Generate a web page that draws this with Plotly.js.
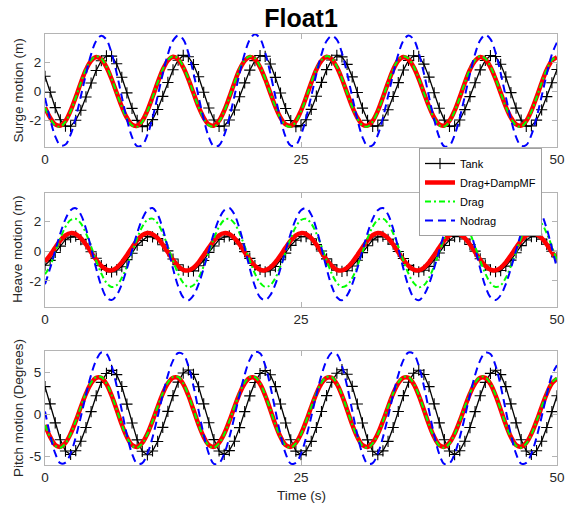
<!DOCTYPE html>
<html>
<head>
<meta charset="utf-8">
<script src="https://cdn.plot.ly/plotly-3.0.1.min.js"></script>
<style>html,body{margin:0;padding:0;background:#fff;}#chart{width:566px;height:512px;}</style>
</head>
<body>
<div id="chart"></div>
<script>
const seriesNames = ["Tank", "Drag+DampMF", "Drag", "Nodrag"];
const xTickVals = [0, 25, 50];
const panelTitles = ["Surge motion (m)", "Heave motion (m)", "Pitch motion (Degrees)"];
const xTitle = "Time (s)";
const chartTitle = "Float1";

const time = [0,0.5,1,1.5,2,2.5,3,3.5,4,4.5,5,5.5,6,6.5,7,7.5,8,8.5,9,9.5,10,10.5,11,11.5,12,12.5,13,13.5,14,14.5,15,15.5,16,16.5,17,17.5,18,18.5,19,19.5,20,20.5,21,21.5,22,22.5,23,23.5,24,24.5,25,25.5,26,26.5,27,27.5,28,28.5,29,29.5,30,30.5,31,31.5,32,32.5,33,33.5,34,34.5,35,35.5,36,36.5,37,37.5,38,38.5,39,39.5,40,40.5,41,41.5,42,42.5,43,43.5,44,44.5,45,45.5,46,46.5,47,47.5,48,48.5,49,49.5,50];

const surgeTank = [1.05,-0.05,-1.12,-1.96,-2.40,-2.41,-1.99,-1.30,-0.38,0.58,1.45,2.12,2.46,2.44,1.91,
0.98,-0.10,-1.17,-2.00,-2.43,-2.37,-1.95,-1.25,-0.34,0.62,1.50,2.16,2.49,2.40,1.86,
1.02,-0.06,-1.14,-1.97,-2.42,-2.39,-1.97,-1.28,-0.37,0.59,1.47,2.13,2.48,2.43,1.90,
0.97,-0.11,-1.18,-2.01,-2.44,-2.36,-1.96,-1.24,-0.33,0.63,1.51,2.17,2.50,2.39,1.87,
1.01,-0.07,-1.15,-1.99,-2.41,-2.38,-1.98,-1.27,-0.35,0.61,1.48,2.15,2.47,2.42,1.89,
0.99,-0.09,-1.16,-1.98,-2.42,-2.39,-1.97,-1.26,-0.36,0.60,1.49,2.14,2.48,2.41,1.88,
1.00,-0.08,-1.15,-1.98,-2.41,-2.38,-1.98,-1.27,-0.36,0.60,1.52];
const surgeDampMF = [-1.10,-1.81,-2.28,-2.36,-2.03,-1.33,-0.40,0.60,1.50,2.12,2.38,2.22,1.68,0.86,-0.10,
-1.05,-1.82,-2.29,-2.37,-2.03,-1.32,-0.39,0.61,1.50,2.13,2.39,2.22,1.67,0.85,-0.11,
-1.06,-1.81,-2.28,-2.36,-2.02,-1.33,-0.40,0.60,1.51,2.12,2.38,2.23,1.68,0.86,-0.10,
-1.05,-1.82,-2.28,-2.37,-2.03,-1.33,-0.41,0.60,1.50,2.12,2.39,2.22,1.68,0.86,-0.10,
-1.05,-1.81,-2.29,-2.36,-2.03,-1.34,-0.40,0.59,1.50,2.13,2.38,2.21,1.68,0.87,-0.10,
-1.04,-1.81,-2.28,-2.36,-2.02,-1.33,-0.40,0.60,1.50,2.12,2.38,2.22,1.68,0.86,-0.10,
-1.05,-1.81,-2.28,-2.36,-2.03,-1.33,-0.40,0.60,1.50,2.12,2.36];
const surgeDrag = [-1.12,-1.86,-2.34,-2.43,-2.09,-1.38,-0.43,0.60,1.53,2.17,2.43,2.28,1.73,0.89,-0.10,
-1.07,-1.87,-2.35,-2.44,-2.09,-1.37,-0.42,0.61,1.53,2.18,2.44,2.28,1.72,0.88,-0.11,
-1.08,-1.86,-2.34,-2.43,-2.08,-1.38,-0.43,0.60,1.54,2.17,2.43,2.29,1.73,0.89,-0.10,
-1.07,-1.87,-2.34,-2.44,-2.09,-1.38,-0.44,0.60,1.53,2.17,2.44,2.28,1.73,0.89,-0.10,
-1.07,-1.86,-2.35,-2.43,-2.09,-1.39,-0.43,0.59,1.53,2.18,2.43,2.27,1.73,0.90,-0.10,
-1.06,-1.86,-2.34,-2.43,-2.08,-1.38,-0.43,0.60,1.53,2.17,2.43,2.28,1.73,0.89,-0.10,
-1.07,-1.86,-2.34,-2.43,-2.09,-1.38,-0.43,0.60,1.53,2.17,2.41];
const surgeNodrag = [-0.45,-1.91,-3.11,-3.72,-3.67,-2.99,-1.82,-0.33,1.20,2.56,3.50,3.85,3.58,2.66,1.26,
-0.37,-1.93,-3.15,-3.78,-3.71,-3.01,-1.83,-0.33,1.21,2.57,3.51,3.86,3.60,2.67,1.26,
-0.36,-1.92,-3.16,-3.80,-3.73,-3.02,-1.82,-0.32,1.23,2.61,3.58,3.95,3.66,2.70,1.27,
-0.37,-1.93,-3.14,-3.75,-3.70,-3.00,-1.82,-0.33,1.20,2.56,3.49,3.84,3.58,2.65,1.25,
-0.36,-1.92,-3.15,-3.78,-3.72,-3.01,-1.83,-0.33,1.21,2.57,3.51,3.86,3.60,2.66,1.26,
-0.37,-1.93,-3.16,-3.80,-3.73,-3.02,-1.82,-0.32,1.22,2.59,3.54,3.90,3.62,2.68,1.26,
-0.37,-1.92,-3.14,-3.76,-3.70,-3.00,-1.82,-0.33,1.20,2.56,3.40];

const heaveTank = [-0.95,-0.63,-0.10,0.33,0.76,0.93,1.00,0.77,0.47,-0.05,-0.48,-0.98,-1.23,-1.40,-1.27,
-1.05,-0.58,-0.15,0.39,0.71,0.98,0.95,0.83,0.42,0.01,-0.54,-0.92,-1.29,-1.36,-1.33,
-0.99,-0.64,-0.09,0.34,0.77,0.94,1.01,0.78,0.48,-0.04,-0.49,-0.97,-1.24,-1.39,-1.28,
-1.04,-0.59,-0.14,0.38,0.72,0.97,0.96,0.82,0.43,0.00,-0.53,-0.93,-1.28,-1.37,-1.32,
-1.00,-0.62,-0.11,0.35,0.75,0.95,0.99,0.79,0.46,-0.03,-0.50,-0.96,-1.25,-1.39,-1.29,
-1.03,-0.60,-0.13,0.37,0.73,0.97,0.97,0.81,0.44,-0.01,-0.52,-0.94,-1.27,-1.38,-1.31,
-1.01,-0.61,-0.12,0.36,0.74,0.96,0.98,0.80,0.45,-0.02,-0.40];
const heaveDampMF = [-0.70,-0.28,0.23,0.71,1.05,1.20,1.13,0.86,0.44,-0.08,-0.58,-1.00,-1.25,-1.29,-1.12,
-0.76,-0.28,0.24,0.72,1.06,1.21,1.13,0.86,0.43,-0.09,-0.59,-1.01,-1.26,-1.30,-1.12,
-0.76,-0.27,0.23,0.71,1.05,1.20,1.14,0.87,0.44,-0.08,-0.58,-1.00,-1.25,-1.29,-1.11,
-0.75,-0.28,0.23,0.70,1.05,1.20,1.13,0.86,0.44,-0.08,-0.58,-1.00,-1.26,-1.30,-1.12,
-0.76,-0.28,0.24,0.71,1.06,1.21,1.13,0.86,0.44,-0.08,-0.59,-1.00,-1.25,-1.29,-1.12,
-0.76,-0.28,0.23,0.71,1.05,1.20,1.13,0.86,0.44,-0.08,-0.58,-1.00,-1.25,-1.29,-1.12,
-0.76,-0.28,0.23,0.71,1.05,1.20,1.13,0.86,0.44,-0.08,-0.50];
const heaveDrag = [-1.55,-1.01,-0.07,0.86,1.62,2.08,2.16,1.85,1.19,0.31,-0.64,-1.51,-2.13,-2.41,-2.29,
-1.80,-1.02,-0.07,0.87,1.63,2.09,2.17,1.85,1.19,0.30,-0.65,-1.52,-2.14,-2.42,-2.30,
-1.80,-1.01,-0.06,0.86,1.62,2.08,2.16,1.85,1.19,0.31,-0.64,-1.51,-2.13,-2.41,-2.29,
-1.80,-1.01,-0.07,0.86,1.62,2.08,2.16,1.84,1.18,0.31,-0.64,-1.51,-2.13,-2.41,-2.29,
-1.81,-1.02,-0.07,0.87,1.63,2.09,2.17,1.85,1.19,0.31,-0.65,-1.52,-2.14,-2.42,-2.30,
-1.80,-1.01,-0.07,0.86,1.62,2.08,2.16,1.85,1.19,0.31,-0.64,-1.51,-2.13,-2.41,-2.29,
-1.80,-1.01,-0.07,0.86,1.62,2.08,2.16,1.85,1.19,0.31,-0.64];
const heaveNodrag = [-2.22,-1.16,0.03,1.19,2.14,2.73,2.87,2.44,1.49,0.20,-1.17,-2.35,-3.10,-3.29,-2.96,
-2.23,-1.17,0.03,1.20,2.15,2.74,2.88,2.45,1.49,0.20,-1.18,-2.36,-3.11,-3.30,-2.97,
-2.22,-1.16,0.04,1.20,2.15,2.74,2.89,2.45,1.50,0.21,-1.17,-2.35,-3.10,-3.29,-2.96,
-2.22,-1.16,0.03,1.19,2.14,2.73,2.87,2.44,1.49,0.20,-1.17,-2.35,-3.10,-3.30,-2.97,
-2.23,-1.17,0.03,1.20,2.15,2.74,2.88,2.45,1.49,0.20,-1.18,-2.36,-3.11,-3.30,-2.96,
-2.22,-1.16,0.03,1.19,2.14,2.73,2.88,2.44,1.49,0.20,-1.17,-2.35,-3.10,-3.29,-2.96,
-2.22,-1.16,0.03,1.19,2.14,2.73,2.87,2.44,1.49,0.20,-1.17];

const pitchTank = [3.26,1.21,-1.04,-3.04,-4.39,-4.80,-4.35,-3.23,-1.60,0.30,2.18,3.77,4.83,5.20,4.69,
3.28,1.19,-1.06,-3.06,-4.42,-4.84,-4.38,-3.25,-1.58,0.32,2.20,3.80,4.88,5.25,4.72,
3.25,1.22,-1.03,-3.03,-4.38,-4.79,-4.34,-3.22,-1.61,0.29,2.17,3.76,4.82,5.18,4.68,
3.27,1.20,-1.05,-3.05,-4.40,-4.82,-4.36,-3.24,-1.59,0.31,2.19,3.79,4.86,5.28,4.73,
3.29,1.20,-1.05,-3.06,-4.41,-4.83,-4.37,-3.24,-1.59,0.31,2.19,3.79,4.85,5.22,4.70,
3.26,1.21,-1.04,-3.04,-4.39,-4.81,-4.35,-3.23,-1.60,0.30,2.18,3.77,4.84,5.21,4.69,
3.26,1.21,-1.04,-3.04,-4.39,-4.80,-4.35,-3.23,-1.60,0.30,2.18];
const pitchDampMF = [-1.30,-2.71,-3.66,-3.89,-3.41,-2.34,-0.84,0.84,2.42,3.65,4.31,4.31,3.57,2.22,0.52,
-1.24,-2.72,-3.67,-3.90,-3.41,-2.33,-0.83,0.85,2.43,3.66,4.32,4.32,3.57,2.21,0.51,
-1.25,-2.71,-3.66,-3.89,-3.40,-2.34,-0.84,0.84,2.42,3.65,4.31,4.31,3.58,2.22,0.52,
-1.24,-2.71,-3.66,-3.89,-3.41,-2.34,-0.84,0.84,2.42,3.65,4.31,4.31,3.57,2.22,0.52,
-1.24,-2.72,-3.67,-3.90,-3.41,-2.34,-0.84,0.85,2.43,3.66,4.32,4.31,3.57,2.22,0.52,
-1.24,-2.71,-3.66,-3.89,-3.41,-2.34,-0.84,0.84,2.42,3.65,4.31,4.31,3.57,2.22,0.52,
-1.24,-2.71,-3.66,-3.89,-3.41,-2.34,-0.84,0.84,2.42,3.65,4.20];
const pitchDrag = [-1.31,-2.76,-3.75,-3.99,-3.49,-2.39,-0.85,0.87,2.48,3.74,4.41,4.41,3.65,2.28,0.54,
-1.25,-2.77,-3.76,-4.00,-3.49,-2.38,-0.84,0.88,2.49,3.75,4.42,4.42,3.65,2.27,0.53,
-1.26,-2.76,-3.75,-3.99,-3.48,-2.39,-0.85,0.87,2.48,3.74,4.41,4.41,3.66,2.28,0.54,
-1.25,-2.76,-3.75,-3.99,-3.49,-2.39,-0.85,0.87,2.48,3.74,4.41,4.41,3.65,2.28,0.54,
-1.25,-2.77,-3.76,-4.00,-3.49,-2.39,-0.85,0.88,2.49,3.75,4.42,4.41,3.65,2.28,0.54,
-1.25,-2.76,-3.75,-3.99,-3.49,-2.39,-0.85,0.87,2.48,3.74,4.41,4.41,3.65,2.28,0.54,
-1.25,-2.76,-3.75,-3.99,-3.49,-2.39,-0.85,0.87,2.48,3.74,4.30];
const pitchNodrag = [0.30,-2.44,-4.68,-5.84,-5.76,-4.68,-2.76,-0.32,2.29,4.65,6.41,7.32,7.16,5.76,3.34,
0.42,-2.46,-4.72,-5.90,-5.82,-4.71,-2.77,-0.32,2.28,4.62,6.36,7.26,7.10,5.72,3.32,
0.41,-2.46,-4.72,-5.92,-5.83,-4.72,-2.78,-0.31,2.31,4.69,6.47,7.40,7.22,5.80,3.36,
0.42,-2.45,-4.70,-5.88,-5.80,-4.70,-2.77,-0.32,2.28,4.63,6.38,7.28,7.12,5.73,3.33,
0.42,-2.46,-4.72,-5.90,-5.82,-4.71,-2.77,-0.32,2.29,4.65,6.41,7.32,7.16,5.76,3.34,
0.42,-2.46,-4.73,-5.93,-5.85,-4.73,-2.78,-0.32,2.29,4.64,6.39,7.30,7.14,5.75,3.34,
0.42,-2.45,-4.70,-5.88,-5.80,-4.70,-2.77,-0.32,2.29,4.65,5.80];

const surgeTicks = [-2, 0, 2];
const heaveTicks = [-2, 0, 2];
const pitchTicks = [-5, 0, 5];

const W = 566, H = 512;
const FONT = "Liberation Sans, Arial, Helvetica, sans-serif";
const TXT = "#262626";
const AXC = "#b4b4b4";

const panels = [
  {data:[surgeTank, surgeDampMF, surgeDrag, surgeNodrag], ticks:surgeTicks, range:[-3.84, 3.97], top:34, bottom:147, title:panelTitles[0]},
  {data:[heaveTank, heaveDampMF, heaveDrag, heaveNodrag], ticks:heaveTicks, range:[-3.72, 3.89], top:193, bottom:306.5, title:panelTitles[1]},
  {data:[pitchTank, pitchDampMF, pitchDrag, pitchNodrag], ticks:pitchTicks, range:[-6.05, 7.5], top:351, bottom:465, title:panelTitles[2]}
];
const styles = [
  {mode:"lines+markers", line:{color:"#000000", width:1.3}, marker:{symbol:"cross-thin", size:8, line:{color:"#000000", width:1.1}}},
  {mode:"lines", line:{color:"#ff0000", width:4.5, shape:"spline", smoothing:1}},
  {mode:"lines", line:{color:"#00ff00", width:2, dash:"6px,3px,2px,3px", shape:"spline", smoothing:1}},
  {mode:"lines", line:{color:"#0000ff", width:2, dash:"8px,5px", shape:"spline", smoothing:1}}
];

const xLeft = 45, xRight = 557;
const traces = [];
const layout = {
  width:W, height:H, margin:{l:0, r:0, t:0, b:0},
  paper_bgcolor:"#ffffff", plot_bgcolor:"#ffffff",
  font:{family:FONT, color:TXT},
  showlegend:true,
  title:{text:"<b>" + chartTitle + "</b>", x:301/W, xanchor:"center", y:1-18/H, yanchor:"middle", yref:"container", font:{size:25, color:"#000000", family:FONT}},
  legend:{x:419/W, y:1-148/H, xanchor:"left", yanchor:"top", bgcolor:"#ffffff", bordercolor:"#a0a0a0", borderwidth:1, font:{size:11, color:"#000000", family:FONT}, itemwidth:30, tracegroupgap:0},
  annotations:[]
};

panels.forEach((p, i) => {
  const xa = i === 0 ? "x" : "x" + (i + 1);
  const ya = i === 0 ? "y" : "y" + (i + 1);
  p.data.forEach((ys, j) => {
    const s = styles[j];
    const tr = {type:"scatter", x:time, y:ys, xaxis:xa, yaxis:ya, name:seriesNames[j], mode:s.mode, line:s.line, showlegend:i === 0, legendgroup:seriesNames[j], hoverinfo:"skip"};
    if (s.marker) tr.marker = s.marker;
    traces.push(tr);
  });
  const axCommon = {showline:true, linecolor:AXC, linewidth:1, mirror:"ticks", ticks:"inside", ticklen:5, tickcolor:AXC, tickwidth:1, showgrid:false, zeroline:false, tickfont:{size:13.5, color:TXT, family:FONT}, fixedrange:true};
  layout[i === 0 ? "xaxis" : "xaxis" + (i + 1)] = Object.assign({}, axCommon, {domain:[xLeft/W, xRight/W], range:[0, 50], tickvals:xTickVals, ticktext:xTickVals.map(String), anchor:ya});
  layout[i === 0 ? "yaxis" : "yaxis" + (i + 1)] = Object.assign({}, axCommon, {domain:[1 - p.bottom/H, 1 - p.top/H], range:p.range, tickvals:p.ticks, ticktext:p.ticks.map(String), anchor:xa});
  layout.annotations.push({text:p.title, xref:"paper", yref:"paper", x:18/W, y:1 - (p.top + p.bottom)/2/H, xanchor:"center", yanchor:"middle", textangle:-90, showarrow:false, font:{size:13.5, color:TXT, family:FONT}});
});
layout.annotations.push({text:xTitle, xref:"paper", yref:"paper", x:301/W, y:1 - 495/H, xanchor:"center", yanchor:"middle", showarrow:false, font:{size:13.5, color:TXT, family:FONT}});

Plotly.newPlot("chart", traces, layout, {staticPlot:true, displayModeBar:false});
</script>
</body>
</html>
